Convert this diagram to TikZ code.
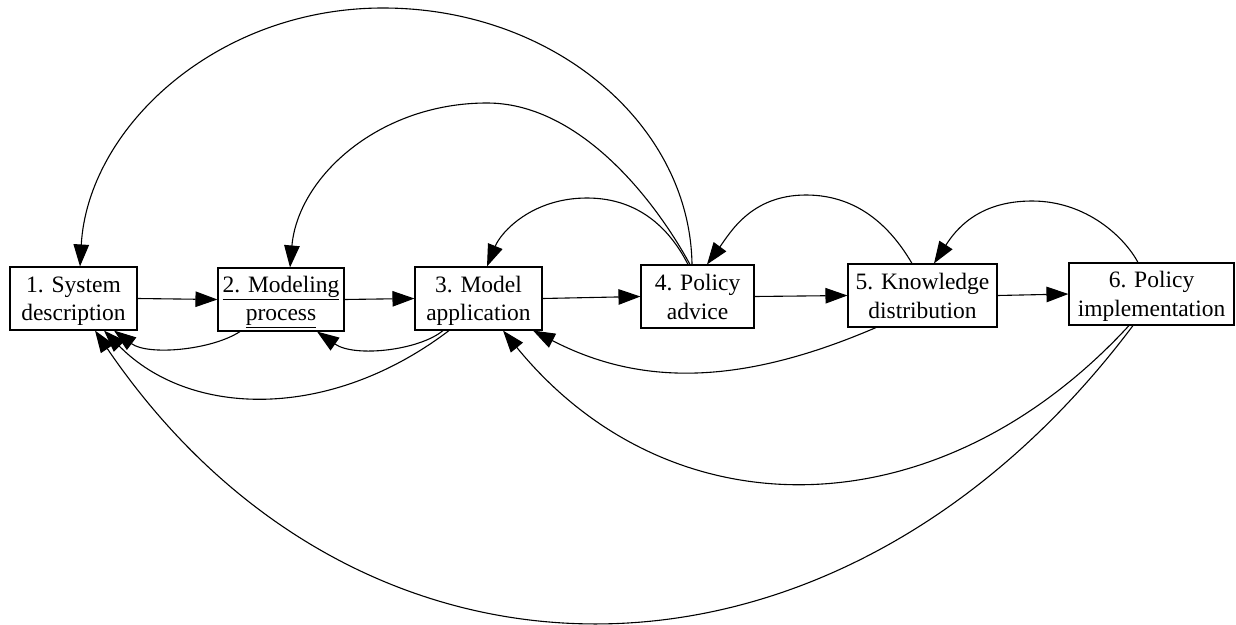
\documentclass[tikz,border=0pt]{standalone}
\usepackage{fontspec}
\setmainfont{Liberation Serif}
\usetikzlibrary{arrows.meta}
\newcommand\topstr{\rule{0pt}{21pt}}
\newcommand\botstr{\rule[-4.5pt]{0pt}{4.5pt}}
\tikzset{
  box/.style={draw, line width=1.1pt, rectangle, inner sep=0pt, align=center,
    font=\fontsize{23.5}{28.5}\selectfont, minimum height=63pt},
  arr/.style={line width=1.1pt, -{Triangle[length=22pt, width=15.5pt]}},
}
\begin{document}
\begin{tikzpicture}[x=1pt, y=-1pt]
\useasboundingbox (0,0) rectangle (1236,624);
\node[box, minimum width=127pt] (n1) at (73.5,298.5) {\topstr 1. System\\description\botstr};
\node[box, minimum width=126pt] (n2) at (281,299.5) {\topstr\underline{2. Modeling}\\\underline{process}\botstr};
\node[box, minimum width=127pt] (n3) at (478.5,298.5) {\topstr 3. Model\\application\botstr};
\node[box, minimum width=113pt] (n4) at (697.5,296.5) {\topstr 4. Policy\\advice\botstr};
\node[box, minimum width=149pt] (n5) at (922.5,295.5) {\topstr 5. Knowledge\\distribution\botstr};
\node[box, minimum width=165pt, minimum height=62pt] (n6) at (1151.5,294) {\topstr 6. Policy\\implementation\botstr};
% forward edges
\draw[arr] (n1.east) -- (n2.west);
\draw[arr] (n2.east) -- (n3.west);
\draw[arr] (n3.east) -- (n4.west);
\draw[arr] (n4.east) -- (n5.west);
\draw[arr] (n5.east) -- (n6.west);
% upper feedback arcs
\draw[arr] ([xshift=-5.5pt]n4.north) .. controls (690,124) and (553,8) .. (383,8)
  .. controls (216,8) and (88,128) .. ([xshift=6.5pt]n1.north);
\draw[arr] ([xshift=-7.5pt]n4.north) .. controls (652,195) and (577,103) .. (487,103)
  .. controls (379,103) and (298,177) .. ([xshift=9pt]n2.north);
\draw[arr] ([xshift=-9.5pt]n4.north) .. controls (672,233) and (642,198) .. (587,198)
  .. controls (532,198) and (501,232) .. ([xshift=8.5pt]n3.north);
\draw[arr] ([xshift=-10.5pt]n5.north) .. controls (893,231) and (861,195) .. (806,195)
  .. controls (751,195) and (730,233) .. ([xshift=9.5pt]n4.north);
\draw[arr] ([xshift=-13.5pt]n6.north) .. controls (1125,238) and (1087,201) .. (1032,201)
  .. controls (977,201) and (955,231) .. ([xshift=11.5pt]n5.north);
% lower feedback arcs
\draw[arr] ([xshift=-41pt]n2.south) .. controls (212,350) and (148,356) .. ([xshift=40.5pt]n1.south);
\draw[arr] ([xshift=-35.5pt]n3.south) .. controls (420,350) and (355,358) .. ([xshift=36pt]n2.south);
\draw[arr] ([xshift=-29.5pt]n3.south) .. controls (330,421) and (190,418) .. ([xshift=30.5pt]n1.south);
\draw[arr] ([xshift=-46.5pt]n5.south) .. controls (740,386) and (640,386) .. ([xshift=54.5pt]n3.south);
\draw[arr] ([xshift=-22.5pt]n6.south) .. controls (938,533) and (670,535) .. ([xshift=24.5pt]n3.south);
\draw[arr] ([xshift=-18.5pt]n6.south) .. controls (837,719.5) and (360,719.5) .. ([xshift=21.5pt]n1.south);
\end{tikzpicture}
\end{document}
